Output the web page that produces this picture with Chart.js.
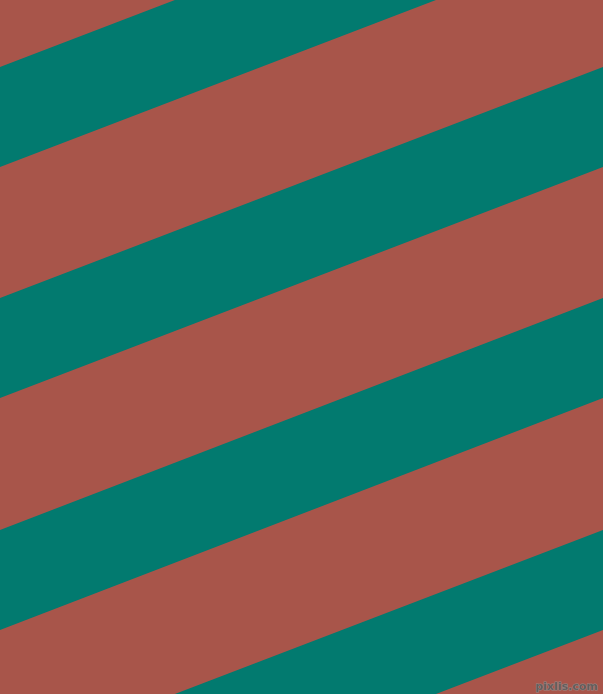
<!DOCTYPE html>
<html>
<head>
<meta charset="utf-8">
<script src="https://cdn.jsdelivr.net/npm/chart.js@4/dist/chart.umd.min.js"></script>
<style>
  html, body { margin: 0; padding: 0; background: #A8554A; overflow: hidden; }
  #wrap { width: 603px; height: 694px; position: relative; }
  canvas { display: block; }
</style>
</head>
<body>
<div id="wrap"><canvas id="c" width="603" height="694"></canvas></div>
<script>
// Stripe edges (y at the left edge x=0 and at the right edge x=603)
const edgeX = [0, 603];
const bandTopLeft     = [67, 298, 530, 761];
const bandBottomLeft  = [167, 398, 630, 861];
const bandTopRight    = [-164, 67, 298, 530];
const bandBottomRight = [-64, 167, 398, 630];
const watermark = 'pixlis.com';

const TEAL = '#027A6F';
const RED = '#A8554A';

const datasets = [];
for (let i = 0; i < bandTopLeft.length; i++) {
  datasets.push({
    data: [{x: edgeX[0], y: bandTopLeft[i]}, {x: edgeX[1], y: bandTopRight[i]}],
    borderWidth: 0, pointRadius: 0, backgroundColor: TEAL, borderColor: TEAL,
    fill: '+1', tension: 0
  });
  datasets.push({
    data: [{x: edgeX[0], y: bandBottomLeft[i]}, {x: edgeX[1], y: bandBottomRight[i]}],
    borderWidth: 0, pointRadius: 0, backgroundColor: TEAL, borderColor: TEAL,
    fill: false, tension: 0
  });
}

const bgPlugin = {
  id: 'bg',
  beforeDraw(chart) {
    const ctx = chart.ctx;
    ctx.save();
    ctx.fillStyle = RED;
    ctx.fillRect(0, 0, chart.width, chart.height);
    ctx.restore();
  },
  afterDraw(chart) {
    const ctx = chart.ctx;
    ctx.save();
    ctx.font = 'bold 11px "DejaVu Sans", sans-serif';
    ctx.textAlign = 'right';
    ctx.textBaseline = 'alphabetic';
    ctx.lineWidth = 1;
    ctx.strokeStyle = 'rgba(150,150,150,0.8)';
    ctx.fillStyle = 'rgba(90,90,90,0.85)';
    ctx.strokeText(watermark, 598, 690);
    ctx.fillText(watermark, 598, 690);
    ctx.restore();
  }
};

new Chart(document.getElementById('c'), {
  type: 'line',
  data: { datasets },
  options: {
    responsive: false,
    animation: false,
    devicePixelRatio: 1,
    layout: { padding: 0 },
    plugins: { legend: { display: false }, tooltip: { enabled: false }, title: { display: false } },
    scales: {
      x: { type: 'linear', min: 0, max: 603, display: false },
      y: { type: 'linear', min: 0, max: 694, reverse: true, display: false }
    }
  },
  plugins: [bgPlugin]
});
</script>
</body>
</html>
